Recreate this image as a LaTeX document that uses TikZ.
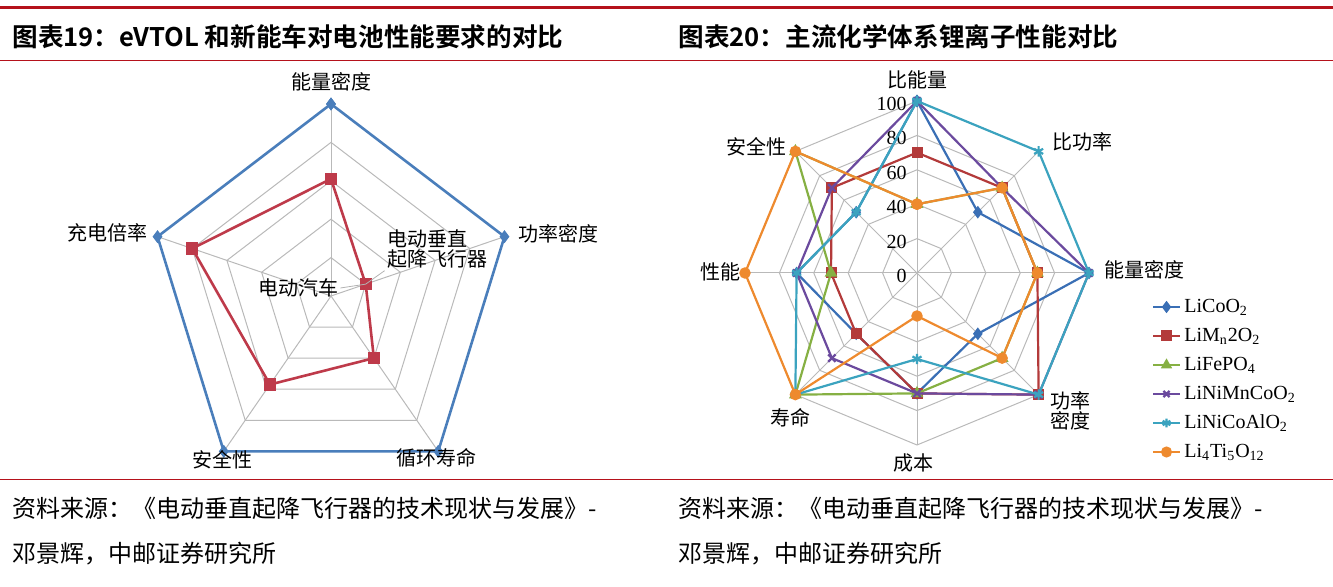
\documentclass[tikz,border=0pt]{standalone}
\usepackage{fontspec}
\setmainfont{Liberation Serif}
\newfontfamily\cjk{Noto Sans CJK SC}
\newfontfamily\cjkb{Noto Sans CJK SC Bold}
\usetikzlibrary{shapes.geometric,plotmarks,calc}
\definecolor{rule}{HTML}{B5121B}
\definecolor{eblue}{HTML}{4A7EBB}
\definecolor{ered}{HTML}{BE3A4A}
\definecolor{sa}{HTML}{3A6FB5}
\definecolor{sb}{HTML}{B33A3A}
\definecolor{sc}{HTML}{86B043}
\definecolor{sd}{HTML}{6B4A9E}
\definecolor{se}{HTML}{3BA3BF}
\definecolor{sf}{HTML}{EE8A2E}
\tikzset{
  grid/.style={draw=gray!55,line width=0.5pt},
  ser/.style={line width=1.1pt,mark size=2.3pt,mark options={solid}},
  axlab/.style={font=\cjk\fontsize{10}{12}\selectfont,inner sep=1pt},
  ticklab/.style={font=\fontsize{10}{12}\selectfont,anchor=east,inner sep=1pt},
  leglab/.style={font=\fontsize{10}{12}\selectfont,anchor=west,inner sep=1pt},
  title/.style={font=\cjkb\fontsize{12.8}{14}\selectfont,anchor=west,inner sep=0pt},
  src/.style={font=\cjk\fontsize{12}{14}\selectfont,anchor=west,inner sep=0pt},
  leader/.style={draw=gray!60,line width=0.4pt}
}
% left chart: pentagon point
\newcommand\pent[3]{\coordinate (#1) at ({331+0.95*192*#3*cos(#2)},{296-192*#3*sin(#2)});}
% right chart: octagon points
\newcommand\octo[2]{\foreach \v [count=\i] in {#2}
  {\coordinate (#1\i) at ({917+1.72*\v*cos(135-45*\i)},{273-1.72*\v*sin(135-45*\i)});}}
\begin{document}
\begin{tikzpicture}[x=0.5pt,y=-0.5pt]
  \useasboundingbox (0,0) rectangle (1333,587);
  % rules and captions
  \draw[rule,line width=1.5pt] (0,8) -- (1333,8);
  \draw[rule,line width=0.5pt] (0,61) -- (1333,61);
  \draw[rule,line width=0.5pt] (0,479) -- (1333,479);
  \node[title] (t1) at (12,37) {图表19：eVTOL 和新能车对电池性能要求的对比};
  \node[title] (t2) at (678,37) {图表20：主流化学体系锂离子性能对比};
  \node[src] (s1) at (12,508) {资料来源：《电动垂直起降飞行器的技术现状与发展》-};
  \node[src] (s2) at (12,554) {邓景辉，中邮证券研究所};
  \node[src] (s3) at (678,508) {资料来源：《电动垂直起降飞行器的技术现状与发展》-};
  \node[src] (s4) at (678,554) {邓景辉，中邮证券研究所};

  % ---- left radar ----
  \pent{lc}{0}{0}
  \foreach \r in {0.2,0.4,0.6,0.8,1.0} {
    \foreach \a [count=\k] in {90,18,-54,-126,162} {\pent{g\k}{\a}{\r}}
    \draw[grid] (g1)--(g2)--(g3)--(g4)--(g5)--cycle;
  }
  \foreach \a [count=\k] in {90,18,-54,-126,162} {
    \pent{v\k}{\a}{1}
    \draw[grid] (lc) -- (v\k);
  }
  \draw[ser,eblue,line width=1.3pt] plot[mark=diamond*,mark size=2.2pt] coordinates {(v1)(v2)(v3)(v4)(v5)(v1)};
  \pent{r1}{90}{0.61}
  \pent{r2}{18}{0.2}
  \pent{r3}{-54}{0.4}
  \pent{r4}{-126}{0.57}
  \pent{r5}{162}{0.8}
  \draw[ser,ered,line width=1.3pt] plot[mark=square*,mark size=2.4pt] coordinates {(r1)(r2)(r3)(r4)(r5)(r1)};
  \node[axlab,above] (l1) at (331,94) {能量密度};
  \node[axlab,anchor=west] (l2) at (516,234) {功率密度};
  \node[axlab] (l3) at (436,458) {循环寿命};
  \node[axlab] (l4) at (222,460) {安全性};
  \node[axlab,anchor=east] (l5) at (150,233) {充电倍率};
  \node[axlab,align=left] (evt) at (437,249) {电动垂直\\[-2pt]起降飞行器};
  \node[axlab] (ev) at (298,288) {电动汽车};
  \draw[leader] (ev.east) -- (r2);
  \draw[leader] (evt.south west) -- (r2);

  % ---- right radar ----
  \coordinate (rc) at (917,273);
  \foreach \r in {20,40,60,80,100} {
    \octo{o}{\r,\r,\r,\r,\r,\r,\r,\r}
    \draw[grid] (o1)--(o2)--(o3)--(o4)--(o5)--(o6)--(o7)--(o8)--cycle;
  }
  \foreach \k in {1,...,8} {\draw[grid] (rc) -- (o\k);}
  \foreach \t in {0,20,...,100} {\node[ticklab] at (909,{273-1.72*\t+3}) {\t};}
  \octo{a}{100,50,100,50,70,50,70,50}
  \octo{b}{70,70,70,100,70,50,50,70}
  \octo{c}{40,70,70,70,70,100,50,100}
  \octo{d}{100,70,100,100,70,70,70,70}
  \octo{e}{100,100,100,100,50,100,70,50}
  \octo{f}{40,70,70,70,25,100,100,100}
  \draw[ser,sa] plot[mark=diamond*] coordinates {(a1)(a2)(a3)(a4)(a5)(a6)(a7)(a8)(a1)};
  \draw[ser,sb] plot[mark=square*,mark size=2.2pt] coordinates {(b1)(b2)(b3)(b4)(b5)(b6)(b7)(b8)(b1)};
  \draw[ser,sc] plot[mark=triangle*,mark size=2.6pt] coordinates {(c1)(c2)(c3)(c4)(c5)(c6)(c7)(c8)(c1)};
  \draw[ser,sd] plot[mark=x,mark size=2.6pt] coordinates {(d1)(d2)(d3)(d4)(d5)(d6)(d7)(d8)(d1)};
  \draw[ser,se] plot[mark=asterisk,mark size=2.6pt] coordinates {(e1)(e2)(e3)(e4)(e5)(e6)(e7)(e8)(e1)};
  \draw[ser,sf] plot[mark=*,mark size=2.3pt] coordinates {(f1)(f2)(f3)(f4)(f5)(f6)(f7)(f8)(f1)};
  \node[axlab] (m1) at (917,80) {比能量};
  \node[axlab] (m2) at (1082,142) {比功率};
  \node[axlab,anchor=west] (m3) at (1102,270) {能量密度};
  \node[axlab,align=left] (m4) at (1070,411) {功率\\[-2pt]密度};
  \node[axlab] (m5) at (913,463) {成本};
  \node[axlab] (m6) at (790,418) {寿命};
  \node[axlab] (m7) at (720,272) {性能};
  \node[axlab] (m8) at (756,147) {安全性};
  % legend
  \foreach \nm/\col/\mk/\txt [count=\i] in {
      la/sa/diamond*/LiCoO\textsubscript{2},
      lb/sb/square*/LiM\textsubscript{n}2O\textsubscript{2},
      lc/sc/triangle*/LiFePO\textsubscript{4},
      ld/sd/x/LiNiMnCoO\textsubscript{2},
      le/se/asterisk/LiNiCoAlO\textsubscript{2},
      lf/sf/*/Li\textsubscript{4}Ti\textsubscript{5}O\textsubscript{12}} {
    \coordinate (\nm a) at (1153,{278+29*\i});
    \coordinate (\nm b) at (1180,{278+29*\i});
    \draw[ser,\col] (\nm a) -- (\nm b);
    \path[ser,\col] plot[mark=\mk,mark size=2.2pt] coordinates {($(\nm a)!0.5!(\nm b)$)};
    \node[leglab] (\nm) at (1182,{278+29*\i}) {\txt};
  }
\end{tikzpicture}
\end{document}
